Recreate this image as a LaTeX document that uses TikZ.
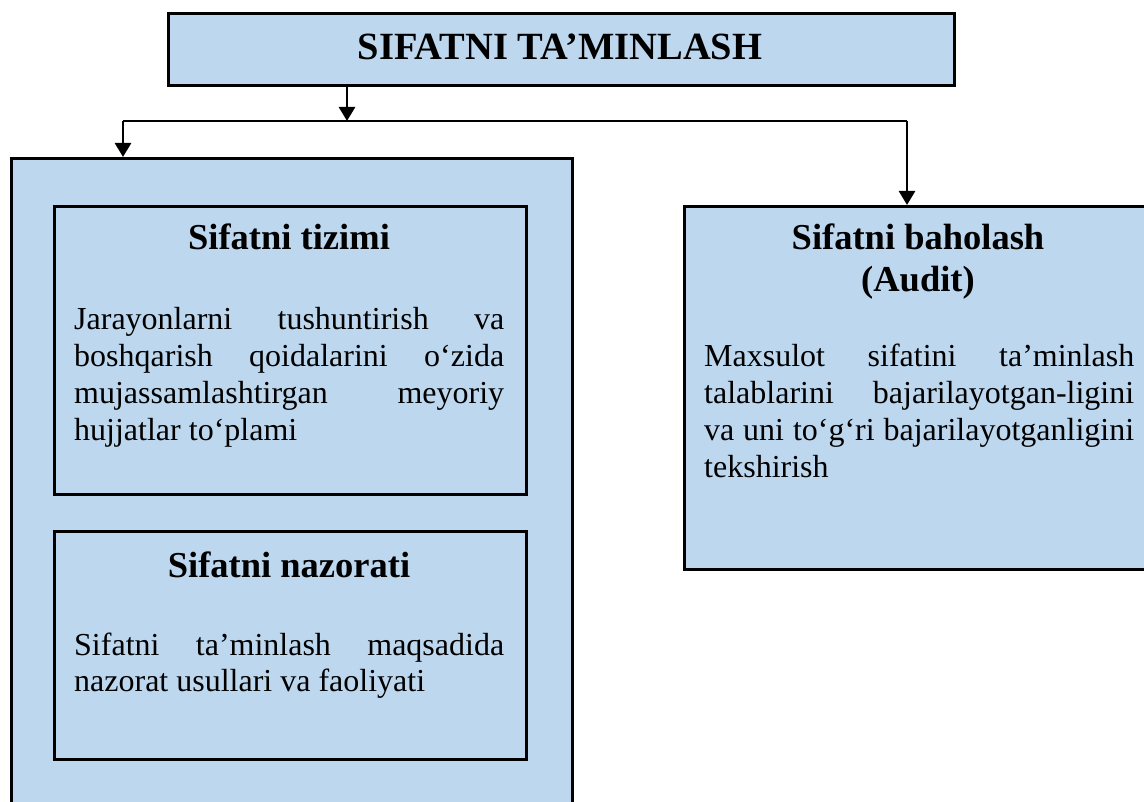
\documentclass[tikz,border=0pt]{standalone}
\usepackage{fontspec}
\setmainfont{Liberation Serif}
\usetikzlibrary{arrows.meta}
\definecolor{boxblue}{RGB}{189,215,238}
\hyphenpenalty=10000
\exhyphenpenalty=10000
\tolerance=10000
\begin{document}
\begin{tikzpicture}[x=1pt,y=-1pt,
  box/.style={draw=black, fill=boxblue, line width=2.6pt, inner sep=0pt, anchor=north west},
  ttl/.style={font=\fontsize{36.5}{42}\selectfont\bfseries, inner sep=0pt, anchor=base},
  bodytext/.style={font=\fontsize{32}{36.7}\selectfont, text width=430pt, align=justify, inner sep=0pt, anchor=base west},
  conn/.style={line width=2.6pt},
  arr/.style={conn, -{Triangle[width=16pt,length=14pt]}}]
\useasboundingbox (0,0) rectangle (1144,802);
\clip (0,0) rectangle (1144,802);
% boxes
\node[box, minimum width=786pt, minimum height=72pt] (top) at (167,12) {};
\node[box, minimum width=561pt, minimum height=700pt] (lbig) at (10,157) {};
\node[box, minimum width=472pt, minimum height=288pt] (sys) at (53,205) {};
\node[box, minimum width=472pt, minimum height=228pt] (ctrl) at (53,530) {};
\node[box, minimum width=472pt, minimum height=363pt] (audit) at (683,205) {};
% texts
\node[font=\fontsize{38.5}{42}\selectfont\bfseries, inner sep=0pt, anchor=base] (toptxt) at (560,60) {SIFATNI TA’MINLASH};
\node[ttl] (systtl) at (289,250) {Sifatni tizimi};
\node[bodytext] (systxt) at (74,330) {Jarayonlarni tushuntirish va\linebreak boshqarish qoidalarini o‘zida\linebreak mujassamlashtirgan meyoriy\linebreak hujjatlar to‘plami};
\node[ttl] (ctrlttl) at (289,577) {Sifatni nazorati};
\node[bodytext] (ctrltxt) at (74,655) {Sifatni ta’minlash maqsadida\linebreak nazorat usullari va faoliyati};
\node[ttl] (audttl1) at (918,250) {Sifatni baholash};
\node[ttl] (audttl2) at (918,292) {(Audit)};
\node[bodytext] (audtxt) at (704,367) {Maxsulot sifatini ta’minlash\linebreak talablarini bajarilayotgan-ligini\linebreak va uni to‘g‘ri bajarilayotganligini\linebreak tekshirish};
% connectors
\coordinate (j) at (347,121);
\coordinate (jl) at (123,121);
\coordinate (jr) at (907,121);
\draw[arr] (top.south -| j) -- (j);
\draw[conn] (jl) -- (jr);
\draw[arr] (jl) -- (jl |- lbig.north);
\draw[arr] (jr) -- (jr |- audit.north);
\end{tikzpicture}
\end{document}
